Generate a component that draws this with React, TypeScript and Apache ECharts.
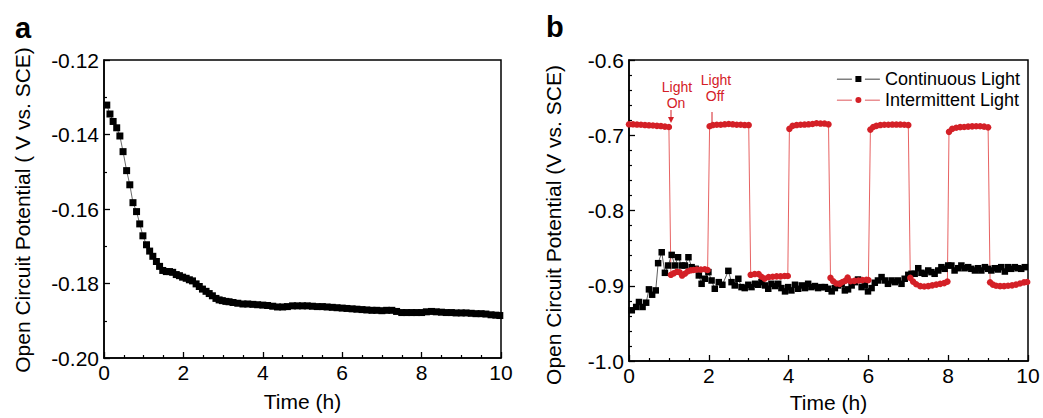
import React, { useEffect, useRef } from "react";
import * as echarts from "echarts";

const FONT = "'Liberation Sans', Arial, sans-serif";
const RED = "#d42027";

// Panel a: OCP vs time
const timeA = [0.07, 0.15, 0.23, 0.32, 0.4, 0.48, 0.57, 0.65, 0.73, 0.82, 0.9, 0.98, 1.07, 1.15, 1.23, 1.32, 1.4, 1.48, 1.57, 1.65, 1.73, 1.82, 1.9, 1.98, 2.07, 2.15, 2.23, 2.32, 2.4, 2.48, 2.57, 2.65, 2.73, 2.82, 2.9, 2.98, 3.07, 3.15, 3.25, 3.37, 3.5, 3.62, 3.75, 3.87, 4.0, 4.12, 4.25, 4.37, 4.5, 4.62, 4.75, 4.87, 5.0, 5.12, 5.25, 5.37, 5.5, 5.62, 5.75, 5.87, 6.0, 6.12, 6.25, 6.37, 6.5, 6.62, 6.75, 6.87, 7.0, 7.12, 7.25, 7.37, 7.5, 7.62, 7.75, 7.87, 8.0, 8.12, 8.25, 8.37, 8.5, 8.62, 8.75, 8.87, 9.0, 9.12, 9.25, 9.37, 9.5, 9.62, 9.75, 9.87, 9.97];
const ocpA = [-0.1321, -0.1345, -0.1365, -0.1382, -0.1404, -0.1446, -0.1497, -0.1535, -0.1583, -0.1607, -0.164, -0.1672, -0.1696, -0.1713, -0.1727, -0.1741, -0.1754, -0.1765, -0.1768, -0.1768, -0.177, -0.1776, -0.1779, -0.1783, -0.1786, -0.179, -0.1793, -0.1801, -0.1808, -0.1815, -0.1821, -0.1827, -0.1833, -0.184, -0.1844, -0.1846, -0.1848, -0.1849, -0.1851, -0.1853, -0.1855, -0.1855, -0.1856, -0.1857, -0.1858, -0.1859, -0.1861, -0.1863, -0.1863, -0.1862, -0.186, -0.186, -0.186, -0.186, -0.1861, -0.1862, -0.1862, -0.1863, -0.1864, -0.1865, -0.1866, -0.1867, -0.1868, -0.1869, -0.187, -0.1871, -0.1872, -0.1872, -0.1873, -0.1872, -0.1872, -0.1875, -0.1878, -0.1878, -0.1878, -0.1878, -0.1878, -0.1876, -0.1875, -0.1876, -0.1877, -0.1878, -0.1878, -0.1879, -0.1879, -0.1879, -0.188, -0.1881, -0.1881, -0.1882, -0.1884, -0.1885, -0.1886];

// Panel b: continuous light
const timeCont = [0.07, 0.18, 0.25, 0.34, 0.43, 0.5, 0.58, 0.67, 0.73, 0.82, 0.9, 0.98, 1.07, 1.15, 1.23, 1.32, 1.4, 1.49, 1.57, 1.67, 1.75, 1.82, 1.9, 1.99, 2.07, 2.15, 2.25, 2.34, 2.49, 2.57, 2.65, 2.74, 2.82, 2.9, 2.99, 3.07, 3.16, 3.24, 3.32, 3.41, 3.49, 3.57, 3.66, 3.74, 3.82, 3.91, 3.99, 4.07, 4.16, 4.24, 4.33, 4.41, 4.49, 4.57, 4.66, 4.74, 4.82, 4.91, 4.99, 5.08, 5.16, 5.24, 5.33, 5.41, 5.49, 5.58, 5.66, 5.74, 5.83, 5.91, 5.99, 6.08, 6.16, 6.24, 6.33, 6.41, 6.49, 6.58, 6.66, 6.74, 6.83, 6.91, 7.0, 7.08, 7.16, 7.25, 7.33, 7.41, 7.5, 7.58, 7.66, 7.75, 7.83, 7.91, 8.0, 8.08, 8.16, 8.25, 8.33, 8.41, 8.5, 8.58, 8.67, 8.75, 8.83, 8.92, 9.0, 9.08, 9.17, 9.25, 9.33, 9.42, 9.5, 9.58, 9.67, 9.75, 9.83, 9.92];
const ocpCont = [-0.9326, -0.9282, -0.9216, -0.9282, -0.9225, -0.9048, -0.9119, -0.9062, -0.87, -0.8555, -0.8828, -0.8731, -0.859, -0.8731, -0.8621, -0.8731, -0.8731, -0.8621, -0.8753, -0.8775, -0.8863, -0.8974, -0.8907, -0.8819, -0.893, -0.904, -0.8952, -0.8987, -0.8802, -0.8952, -0.8996, -0.8907, -0.9018, -0.9031, -0.8987, -0.9018, -0.8974, -0.8987, -0.8952, -0.8996, -0.904, -0.8974, -0.9004, -0.8974, -0.9031, -0.9075, -0.9018, -0.9062, -0.8987, -0.904, -0.8996, -0.9031, -0.8974, -0.9018, -0.9004, -0.9031, -0.9018, -0.9018, -0.904, -0.9075, -0.9031, -0.8996, -0.8974, -0.9062, -0.9048, -0.8996, -0.8952, -0.8917, -0.9018, -0.8987, -0.9075, -0.9031, -0.896, -0.893, -0.8885, -0.893, -0.8974, -0.893, -0.8952, -0.893, -0.8974, -0.8907, -0.8855, -0.8841, -0.8841, -0.8767, -0.8828, -0.8841, -0.8797, -0.8819, -0.8841, -0.8797, -0.8753, -0.8775, -0.8731, -0.8731, -0.8797, -0.8767, -0.8731, -0.8767, -0.8753, -0.8775, -0.8797, -0.8767, -0.8797, -0.8753, -0.8775, -0.8797, -0.8767, -0.8784, -0.8753, -0.8811, -0.8753, -0.8775, -0.8753, -0.8767, -0.8775, -0.8753];

// Panel b: intermittent light
const timeInt = [0.0, 0.1, 0.2, 0.3, 0.4, 0.5, 0.6, 0.7, 0.8, 0.9, 1.0, 1.05, 1.12, 1.2, 1.27, 1.33, 1.4, 1.47, 1.55, 1.62, 1.7, 1.8, 1.9, 1.97, 2.02, 2.1, 2.2, 2.3, 2.4, 2.5, 2.6, 2.7, 2.8, 2.9, 3.0, 3.05, 3.15, 3.25, 3.32, 3.4, 3.5, 3.6, 3.7, 3.8, 3.9, 3.98, 4.02, 4.1, 4.2, 4.3, 4.4, 4.5, 4.6, 4.7, 4.8, 4.9, 5.0, 5.05, 5.12, 5.2, 5.28, 5.35, 5.42, 5.48, 5.55, 5.65, 5.75, 5.85, 5.95, 6.0, 6.05, 6.12, 6.2, 6.3, 6.4, 6.5, 6.6, 6.7, 6.8, 6.9, 7.0, 7.05, 7.12, 7.2, 7.3, 7.4, 7.5, 7.6, 7.7, 7.8, 7.9, 7.98, 8.02, 8.1, 8.2, 8.3, 8.4, 8.5, 8.6, 8.7, 8.8, 8.9, 9.0, 9.05, 9.12, 9.2, 9.3, 9.4, 9.5, 9.6, 9.7, 9.8, 9.9, 9.98];
const ocpInt = [-0.6855, -0.6855, -0.6858, -0.686, -0.6865, -0.6868, -0.687, -0.6875, -0.6878, -0.6885, -0.689, -0.8855, -0.8835, -0.8815, -0.882, -0.8865, -0.884, -0.881, -0.8795, -0.879, -0.8785, -0.8785, -0.878, -0.879, -0.688, -0.6865, -0.686, -0.686, -0.6855, -0.685, -0.6855, -0.686, -0.686, -0.6865, -0.6865, -0.8855, -0.8845, -0.8845, -0.888, -0.8905, -0.8885, -0.888, -0.8875, -0.8875, -0.887, -0.887, -0.6915, -0.6875, -0.6865, -0.686, -0.6858, -0.6855, -0.685, -0.684, -0.6845, -0.6845, -0.6855, -0.8895, -0.894, -0.897, -0.8975, -0.895, -0.8935, -0.889, -0.894, -0.8935, -0.893, -0.8925, -0.892, -0.8925, -0.6925, -0.689, -0.6875, -0.6865, -0.686, -0.686, -0.6858, -0.6858, -0.6858, -0.686, -0.6865, -0.8895, -0.8945, -0.898, -0.9005, -0.901, -0.9005, -0.8995, -0.8985, -0.8975, -0.8965, -0.8945, -0.6955, -0.6915, -0.69, -0.6892, -0.689, -0.6885, -0.6882, -0.688, -0.688, -0.6885, -0.6895, -0.8955, -0.8985, -0.9, -0.9005, -0.9005, -0.9, -0.8995, -0.8985, -0.897, -0.8955, -0.895];

const zip = (xs: number[], ys: number[]) => xs.map((x, i) => [x, ys[i]]);

// legend icons: line - marker - line (43 x 7 box)
const ICON_SQUARE = "path://M0,3.2h15v0.7h-15z M18.5,0.5h6v6h-6z M28,3.2h15v0.7h-15z";
const ICON_CIRCLE = "path://M0,3.2h15v0.7h-15z M18.5,3.5a3,3 0 1,0 6,0a3,3 0 1,0 -6,0z M28,3.2h15v0.7h-15z";

function xAxisCfg(gridIndex: number, nameGap: number) {
  return {
    type: "value",
    gridIndex,
    min: 0,
    max: 10,
    interval: 2,
    name: "Time (h)",
    nameLocation: "middle",
    nameGap,
    nameTextStyle: { fontFamily: FONT, fontSize: 21, color: "#000" },
    axisLine: { show: true, onZero: false, lineStyle: { color: "#000", width: 1.5 } },
    axisTick: { show: true, inside: true, length: 6, lineStyle: { color: "#000", width: 1.3 } },
    minorTick: { show: true, splitNumber: 4, length: 3, lineStyle: { color: "#000", width: 1.2 } },
    axisLabel: { fontFamily: FONT, fontSize: 21, color: "#000", margin: 4 },
    splitLine: { show: false },
    minorSplitLine: { show: false },
  };
}

function yAxisCfg(gridIndex: number, min: number, max: number, interval: number, minorSplit: number, digits: number) {
  return {
    type: "value",
    gridIndex,
    min,
    max,
    interval,
    axisLine: { show: true, onZero: false, lineStyle: { color: "#000", width: 1.5 } },
    axisTick: { show: true, inside: true, length: 6, lineStyle: { color: "#000", width: 1.3 } },
    minorTick: { show: true, splitNumber: minorSplit, length: 3, lineStyle: { color: "#000", width: 1.2 } },
    axisLabel: {
      fontFamily: FONT,
      fontSize: 21,
      color: "#000",
      margin: 5,
      formatter: (v: number) => v.toFixed(digits),
    },
    splitLine: { show: false },
    minorSplitLine: { show: false },
  };
}

export default function App() {
  const ref = useRef<HTMLDivElement>(null);
  useEffect(() => {
    if (!ref.current) return;
    const chart = echarts.init(ref.current, undefined, { renderer: "svg" });
    chart.setOption({
      animation: false,
      backgroundColor: "#fff",
      grid: [
        { left: 104, top: 60, width: 397, height: 298, show: true, borderColor: "#000", borderWidth: 1.5, backgroundColor: "transparent" },
        { left: 629, top: 60, width: 399, height: 303, show: true, borderColor: "#000", borderWidth: 1.5, backgroundColor: "transparent" },
      ],
      xAxis: [xAxisCfg(0, 33), xAxisCfg(1, 31)],
      yAxis: [
        yAxisCfg(0, -0.2, -0.12, 0.02, 2, 2),
        yAxisCfg(1, -1.0, -0.6, 0.1, 5, 1),
      ],
      legend: {
        data: [
          { name: "Continuous Light", icon: ICON_SQUARE, itemStyle: { color: "#000" } },
          { name: "Intermittent Light", icon: ICON_CIRCLE, itemStyle: { color: RED } },
        ],
        right: 18,
        top: 65,
        orient: "vertical",
        itemWidth: 43,
        itemHeight: 7,
        itemGap: 3,
        textStyle: { fontFamily: FONT, fontSize: 18, color: "#000", lineHeight: 18 },
      },
      graphic: [
        { type: "text", left: 15, top: 13, style: { text: "a", font: `bold 29px ${FONT}`, fill: "#000" } },
        { type: "text", left: 546, top: 12, style: { text: "b", font: `bold 29px ${FONT}`, fill: "#000" } },
        {
          type: "text", x: 22, y: 210, rotation: Math.PI / 2,
          style: { text: "Open Circuit Potential ( V vs. SCE)", font: `21px ${FONT}`, fill: "#000", align: "center", verticalAlign: "middle" },
        },
        {
          type: "text", x: 553, y: 225, rotation: Math.PI / 2,
          style: { text: "Open Circuit Potential (V vs. SCE)", font: `21px ${FONT}`, fill: "#000", align: "center", verticalAlign: "middle" },
        },
        { type: "text", x: 677, y: 87, style: { text: "Light", font: `14px ${FONT}`, fill: RED, align: "center", verticalAlign: "middle" } },
        { type: "text", x: 676, y: 103, style: { text: "On", font: `14px ${FONT}`, fill: RED, align: "center", verticalAlign: "middle" } },
        { type: "text", x: 716, y: 80, style: { text: "Light", font: `14px ${FONT}`, fill: RED, align: "center", verticalAlign: "middle" } },
        { type: "text", x: 715, y: 96, style: { text: "Off", font: `14px ${FONT}`, fill: RED, align: "center", verticalAlign: "middle" } },
        { type: "line", shape: { x1: 671, y1: 110, x2: 671, y2: 118 }, style: { stroke: RED, lineWidth: 1 } },
        { type: "polygon", shape: { points: [[668, 117], [674, 117], [671, 123]] }, style: { fill: RED } },
        { type: "line", shape: { x1: 712, y1: 112, x2: 712, y2: 122 }, style: { stroke: RED, lineWidth: 1 } },
      ],
      series: [
        {
          type: "line",
          xAxisIndex: 0,
          yAxisIndex: 0,
          data: zip(timeA, ocpA),
          symbol: "rect",
          symbolSize: 7,
          itemStyle: { color: "#000" },
          lineStyle: { color: "#444", width: 0.8 },
        },
        {
          name: "Continuous Light",
          type: "line",
          xAxisIndex: 1,
          yAxisIndex: 1,
          data: zip(timeCont, ocpCont),
          symbol: "rect",
          symbolSize: 6.5,
          itemStyle: { color: "#000" },
          lineStyle: { color: "#333", width: 0.8 },
        },
        {
          name: "Intermittent Light",
          type: "line",
          xAxisIndex: 1,
          yAxisIndex: 1,
          data: zip(timeInt, ocpInt),
          symbol: "circle",
          symbolSize: 6.5,
          itemStyle: { color: RED },
          lineStyle: { color: "#e45050", width: 0.9 },
        },
      ],
    });
    return () => chart.dispose();
  }, []);
  return <div ref={ref} style={{ position: "fixed", left: 0, top: 0, width: 1043, height: 418 }} />;
}
